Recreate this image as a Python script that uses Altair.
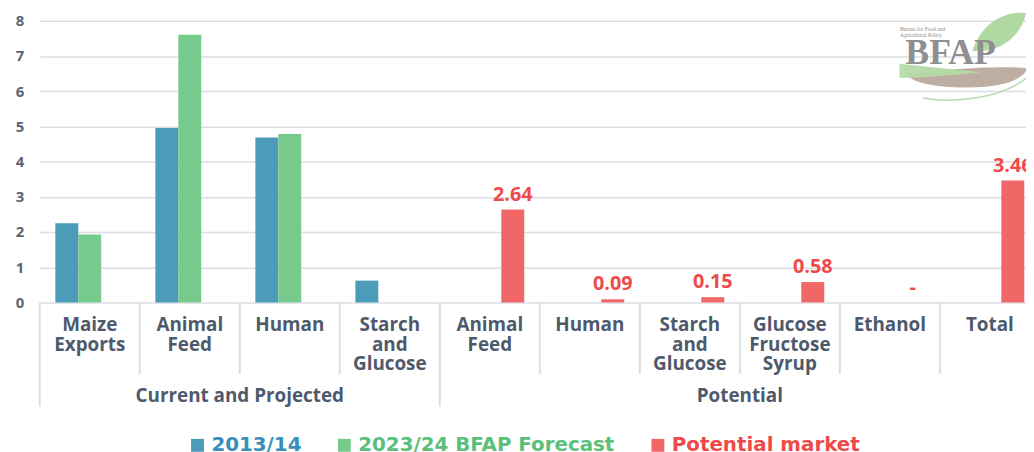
import altair as alt
import pandas as pd

# ---------------- data ----------------
keys = ["c0", "c1", "c2", "c3", "c4", "c5", "c6", "c7", "c8", "c9"]
category_labels = ["Maize\nExports", "Animal\nFeed", "Human", "Starch\nand\nGlucose",
                   "Animal\nFeed", "Human", "Starch\nand\nGlucose",
                   "Glucose\nFructose\nSyrup", "Ethanol", "Total"]
group_names = ["Current and Projected", "Potential"]
group_anchor_keys = ["c1", "c6"]          # group label sits at the end of these bands

series_names = ["2013/14", "2023/24 BFAP Forecast", "Potential market"]
series_colors = ["#4b9bb9", "#76ca8c", "#f16767"]
legend_text_colors = ["#3a8fba", "#5bc07b", "#ee4a4a"]

current_keys = keys[:4]
values_2013 = [2.25, 4.95, 4.68, 0.62]
values_2023 = [1.93, 7.60, 4.78, None]

potential_keys = keys[4:]
potential_values = [2.64, 0.09, 0.15, 0.58, 0.0, 3.46]
potential_text = ["2.64", "0.09", "0.15", "0.58", "-", "3.46"]

y_ticks = [0, 1, 2, 3, 4, 5, 6, 7, 8]

# ---------------- tables ----------------
rows = []
for k, v in zip(current_keys, values_2013):
    if v is not None:
        rows.append({"key": k, "series": series_names[0], "value": v})
for k, v in zip(current_keys, values_2023):
    if v is not None:
        rows.append({"key": k, "series": series_names[1], "value": v})
for k, v in zip(potential_keys, potential_values):
    rows.append({"key": k, "series": series_names[2], "value": v})
bar_df = pd.DataFrame(rows)

label_df = pd.DataFrame({"key": potential_keys, "series": series_names[2],
                         "value": potential_values, "label": potential_text})
cat_df = pd.DataFrame({"key": keys, "label": category_labels})
group_df = pd.DataFrame({"key": group_anchor_keys, "label": group_names})
sep_short_df = pd.DataFrame({"key": [k for k in keys if k not in ("c0", "c4")]})
sep_long_df = pd.DataFrame({"key": ["c0", "c4"]})

# ---------------- layout ----------------
W, H = 994, 284
X_RANGE = 1008
FONT = "Open Sans"
LEGEND_FONT = "DejaVu Sans"
AXIS_TEXT = "#4e5a6c"
LINE = "#dcdee6"

x_scale = alt.Scale(domain=keys, range=[0, X_RANGE], paddingInner=0, paddingOuter=0)
off_scale = alt.Scale(domain=series_names, paddingInner=0, paddingOuter=0.68)
y_scale = alt.Scale(domain=[0, 8], nice=False)
y_axis = alt.Axis(values=y_ticks, grid=True, gridColor=LINE, gridWidth=1.5,
                  domain=False, ticks=False, title=None, labelFont=FONT,
                  labelFontSize=15, labelFontWeight="bold", labelColor="#5a6474",
                  labelPadding=16, labelOverlap=False)

label_color_expr = " : ".join(
    [f"datum.label == '{n}' ? '{c}'" for n, c in zip(series_names[:-1], legend_text_colors[:-1])]
) + f" : '{legend_text_colors[-1]}'"

bars = alt.Chart(bar_df).mark_bar().encode(
    x=alt.X("key:N", scale=x_scale,
            axis=alt.Axis(labels=False, ticks=False, domain=True, domainColor=LINE,
                          domainWidth=2, grid=False, title=None)),
    xOffset=alt.XOffset("series:N", scale=off_scale),
    y=alt.Y("value:Q", scale=y_scale, axis=y_axis),
    color=alt.Color("series:N", scale=alt.Scale(domain=series_names, range=series_colors),
                    legend=alt.Legend(title=None, orient="none", legendX=149, legendY=418,
                                      direction="horizontal", symbolType="square",
                                      symbolSize=169, symbolStrokeWidth=0,
                                      labelFont=LEGEND_FONT, labelFontSize=20,
                                      labelFontWeight="bold", columnPadding=33,
                                      labelOffset=4, labelLimit=400,
                                      labelColor={"expr": label_color_expr})),
)

value_labels = alt.Chart(label_df).mark_text(
    baseline="bottom", dy=-5, fontSize=20, font=FONT, fontWeight="bold", color="#ee4a4a"
).encode(
    x=alt.X("key:N", scale=x_scale, axis=None),
    xOffset=alt.XOffset("series:N", scale=off_scale),
    y=alt.Y("value:Q", scale=y_scale, axis=y_axis),
    text="label:N",
)

cat_text = alt.Chart(cat_df).mark_text(
    lineBreak="\n", baseline="top", align="center", fontSize=19, font=FONT,
    fontWeight="bold", color=AXIS_TEXT, lineHeight=19.5
).encode(
    x=alt.X("key:N", scale=x_scale, axis=None),
    y=alt.value(H + 14),
    text="label:N",
)

group_text = alt.Chart(group_df).mark_text(
    baseline="middle", align="center", fontSize=19, font=FONT,
    fontWeight="bold", color=AXIS_TEXT
).encode(
    x=alt.X("key:N", scale=x_scale, axis=None, bandPosition=1),
    y=alt.value(H + 94),
    text="label:N",
)

sep_short = alt.Chart(sep_short_df).mark_rule(color=LINE, strokeWidth=2).encode(
    x=alt.X("key:N", scale=x_scale, axis=None, bandPosition=0),
    y=alt.value(H), y2=alt.value(H + 72),
)
sep_long = alt.Chart(sep_long_df).mark_rule(color=LINE, strokeWidth=2).encode(
    x=alt.X("key:N", scale=x_scale, axis=None, bandPosition=0),
    y=alt.value(H), y2=alt.value(H + 105),
)

# ---------------- BFAP logo (decoration) ----------------
one = pd.DataFrame({"k": [0]})
logo_brown = alt.Chart(one).mark_point(
    shape="M-1,-0.05 C-0.5,-0.12 0.5,-0.2 1,-0.15 C0.9,0.08 0.5,0.17 0,0.17 C-0.6,0.17 -0.95,0.08 -1,-0.05 Z",
    filled=True, size=14641, color="#bba99d", opacity=0.95
).encode(x=alt.value(935), y=alt.value(57))
logo_green = alt.Chart(one).mark_point(
    shape="M-1,-0.15 C-0.4,-0.1 0.4,0.0 1,0.05 C0.4,0.1 -0.4,0.2 -1,0.18 Z",
    filled=True, size=6889, color="#b3dba8", opacity=0.95
).encode(x=alt.value(908), y=alt.value(50))
logo_leaf = alt.Chart(one).mark_point(
    shape="M-1,0.6 C-0.6,-0.6 0.4,-0.9 1,-0.8 C0.8,0.1 0,0.7 -1,0.6 Z",
    filled=True, size=2916, color="#acd69d", opacity=0.95
).encode(x=alt.value(967), y=alt.value(14))
logo_arc = alt.Chart(one).mark_point(
    shape="M-1,0.19 C-0.4,0.3 0.5,0.2 1,-0.19",
    filled=False, size=10816, color="#b3dba8", strokeWidth=1.5, opacity=0.95
).encode(x=alt.value(942), y=alt.value(68))
logo_text = alt.Chart(one).mark_text(
    text="BFAP", font="Liberation Serif", fontSize=36, fontWeight="bold",
    color="#8f8f8f", baseline="alphabetic", align="center"
).encode(x=alt.value(918), y=alt.value(44))
logo_small = alt.Chart(one).mark_text(
    text=["Bureau for Food and", "Agricultural Policy"], font="Liberation Serif",
    fontSize=5.5, color="#8d8d8d", align="left", baseline="top", lineHeight=6
).encode(x=alt.value(867), y=alt.value(6))

chart = alt.layer(
    bars, value_labels, sep_short, sep_long, cat_text, group_text,
    logo_brown, logo_green, logo_leaf, logo_arc, logo_text, logo_small
).properties(
    width=W, height=H,
    padding={"left": 32, "top": 11, "right": 0, "bottom": 156},
    autosize=alt.AutoSizeParams(type="none"),
).configure_view(stroke=None)

chart.save("out.html", embed_options={"renderer": "svg", "actions": False})
